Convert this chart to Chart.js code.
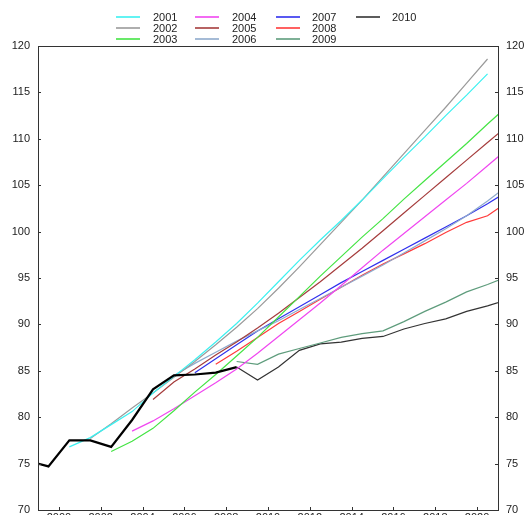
<!DOCTYPE html>
<html>
<head>
<meta charset="utf-8">
<script src="https://cdn.jsdelivr.net/npm/chart.js@4.4.1/dist/chart.umd.min.js"></script>
<style>
html, body { margin:0; padding:0; width:525px; height:515px; overflow:hidden; background:#fff; }
#wrap { position:absolute; left:0; top:0; width:540px; height:540px; }
#legend { position:absolute; left:0; top:0; width:525px; height:46px; font-family:'Liberation Sans', Arial, sans-serif; font-size:11px; color:#222; }
.lg-line { position:absolute; height:2px; width:24px; opacity:0.8; }
.lg-text { position:absolute; line-height:12px; white-space:nowrap; }
</style>
</head>
<body>
<div id="wrap"><canvas id="c" width="540" height="540"></canvas></div>
<div id="legend"></div>
<script>
// ---- data ----
const vintages = ["2001","2002","2003","2004","2005","2006","2007","2008","2009","2010"];
const xTicks = [2000,2002,2004,2006,2008,2010,2012,2014,2016,2018,2020];
const yTicks = [70,75,80,85,90,95,100,105,110,115,120];

const histStart = 1998;
const history = [75.3, 74.7, 77.5, 77.5, 76.8, 79.7, 83.0, 84.5, 84.6, 84.8, 85.4];

const startYears = [2000, 2001, 2002, 2003, 2004, 2005, 2006, 2007, 2008, 2008];
const v2001 = [76.8, 77.8, 79.2, 80.6, 82.6, 84.4, 86.2, 88.1, 90.1, 92.3, 94.6, 96.9, 99.1, 101.2, 103.4, 105.7, 108.0, 110.2, 112.5, 114.7, 117.0];
const v2002 = [77.7, 79.3, 81.0, 82.6, 84.3, 86.0, 87.8, 89.7, 91.7, 93.9, 96.2, 98.6, 101.0, 103.4, 105.9, 108.4, 110.9, 113.4, 116.0, 118.6];
const v2003 = [76.3, 77.4, 78.8, 80.7, 82.7, 84.6, 86.6, 88.6, 90.8, 93.0, 95.2, 97.3, 99.4, 101.4, 103.5, 105.5, 107.5, 109.5, 111.6, 113.6];
const v2004 = [78.5, 79.6, 80.9, 82.3, 83.7, 85.2, 86.9, 88.7, 90.5, 92.3, 94.2, 96.1, 98.0, 99.8, 101.6, 103.4, 105.2, 107.1, 109.0];
const v2005 = [81.9, 83.8, 85.2, 86.7, 88.1, 89.6, 91.2, 92.9, 94.6, 96.4, 98.2, 100.1, 102.0, 103.9, 105.8, 107.7, 109.6, 111.5];
const v2006 = [84.5, 85.8, 87.0, 88.2, 89.3, 90.4, 91.6, 92.8, 94.0, 95.2, 96.4, 97.7, 99.0, 100.3, 101.7, 103.3, 105.0];
const v2007 = [84.8, 86.3, 87.8, 89.3, 90.6, 91.9, 93.2, 94.5, 95.7, 96.9, 98.1, 99.3, 100.5, 101.7, 103.0, 104.4];
const v2008 = [85.7, 87.1, 88.6, 90.1, 91.4, 92.7, 94.0, 95.3, 96.5, 97.6, 98.7, 99.9, 101.0, 101.7, 103.3];
const v2009 = [86.0, 85.7, 86.8, 87.4, 88.0, 88.6, 89.0, 89.3, 90.3, 91.4, 92.4, 93.5, 94.3, 95.2];
const v2010 = [85.4, 84.0, 85.4, 87.2, 87.9, 88.1, 88.5, 88.7, 89.5, 90.1, 90.6, 91.4, 92.0, 92.7];
const seriesValues = [v2001, v2002, v2003, v2004, v2005, v2006, v2007, v2008, v2009, v2010];

// ---- styles ----
const colors = ['#3cf0f0','#9a9a9a','#44e444','#f046f0','#a53c3c','#8eaacc','#3030ee','#ff3a3a','#5e9c7c','#333333'];

function toPoints(start, vals) {
  return vals.map((v, i) => ({ x: start + i + 0.5, y: v }));
}

const datasets = [{
  label: 'history',
  data: toPoints(histStart, history),
  borderColor: '#000',
  borderWidth: 2.2,
  pointRadius: 0,
  clip: 0
}];
vintages.forEach((name, i) => {
  datasets.push({
    label: name,
    data: toPoints(startYears[i], seriesValues[i]),
    borderColor: colors[i],
    borderWidth: 1.2,
    pointRadius: 0,
    clip: 0
  });
});

Chart.defaults.font.family = "'Liberation Sans', Arial, sans-serif";
Chart.defaults.font.size = 11;
Chart.defaults.color = '#222';

const frame = {
  id: 'frame',
  afterDraw(chart) {
    const { ctx, chartArea: a, scales } = chart;
    ctx.save();
    ctx.strokeStyle = '#333';
    ctx.lineWidth = 1;
    ctx.strokeRect(Math.round(a.left) + 0.5, Math.round(a.top) + 0.5, Math.round(a.right - a.left), Math.round(a.bottom - a.top));
    ctx.beginPath();
    const tl = 3;
    scales.y.ticks.forEach(t => {
      const py = Math.round(scales.y.getPixelForValue(t.value)) + 0.5;
      ctx.moveTo(a.left, py); ctx.lineTo(a.left + tl, py);
      ctx.moveTo(a.right, py); ctx.lineTo(a.right - tl, py);
    });
    scales.x.ticks.forEach(t => {
      const px = Math.round(scales.x.getPixelForValue(t.value)) + 0.5;
      ctx.moveTo(px, a.bottom); ctx.lineTo(px, a.bottom - tl);
    });
    ctx.stroke();
    ctx.restore();
  }
};

const yCommon = {
  type: 'linear', min: 70, max: 120,
  afterBuildTicks: s => { s.ticks = yTicks.map(v => ({ value: v })); },
  grid: { drawOnChartArea: false, drawTicks: false },
  border: { color: '#333', width: 1 },
  ticks: { padding: 8, color: '#222', font: { size: 11 } }
};

new Chart(document.getElementById('c'), {
  type: 'line',
  data: { datasets },
  plugins: [frame],
  options: {
    responsive: false,
    animation: false,
    parsing: true,
    layout: { padding: { top: 46, left: 0, right: 0, bottom: 0 } },
    plugins: { legend: { display: false }, tooltip: { enabled: false } },
    elements: { line: { tension: 0 } },
    scales: {
      x: {
        type: 'linear', min: 1999, max: 2021, position: 'bottom',
        afterBuildTicks: s => { s.ticks = xTicks.map(v => ({ value: v })); },
        afterFit: s => { s.height = 30; },
        grid: { drawOnChartArea: false, drawTicks: false },
        border: { color: '#333', width: 1 },
        ticks: { padding: 1, color: '#222', callback: v => String(v), maxRotation: 0, autoSkip: false }
      },
      y: Object.assign({}, yCommon, { position: 'left', afterFit: s => { s.width = 38; } }),
      y2: Object.assign({}, yCommon, { position: 'right', afterFit: s => { s.width = 42; } })
    }
  }
});

// ---- legend (HTML text) ----
const legend = document.getElementById('legend');
const colLine = [116, 195, 276, 356];
const colText = [153, 232, 312, 392];
const rowY = [17, 28, 39];
vintages.forEach((name, i) => {
  const col = Math.floor(i / 3), row = i % 3;
  const ln = document.createElement('div');
  ln.className = 'lg-line';
  ln.style.left = colLine[col] + 'px';
  ln.style.top = (rowY[row] - 1) + 'px';
  ln.style.background = colors[i];
  legend.appendChild(ln);
  const tx = document.createElement('div');
  tx.className = 'lg-text';
  tx.style.left = colText[col] + 'px';
  tx.style.top = (rowY[row] - 6.5) + 'px';
  tx.textContent = name;
  legend.appendChild(tx);
});
</script>
</body>
</html>
